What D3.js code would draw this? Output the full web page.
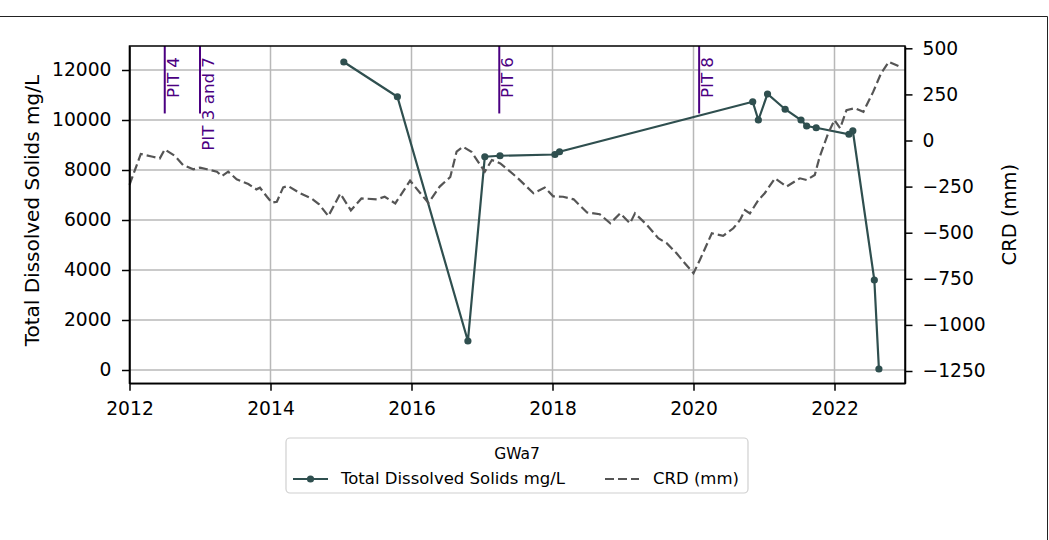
<html lang="en">
<head>
<meta charset="utf-8">
<script src="https://cdn.jsdelivr.net/npm/d3@7"></script>
<style type="text/css">
  body { margin: 0; background: #fff; }
  text { font-family: "DejaVu Sans", sans-serif; }
  .grid line { stroke: #b8b8b8; stroke-width: 1.5; }
  .axis path, .axis line { stroke: #000; stroke-width: 1.5; }
  .axis text { font-size: 18.7px; fill: #000; }
</style>
</head>
<body>
<div id="chart"></div>
<script type="text/javascript">

// Total Dissolved Solids samples (decimal year, mg/L)
var tdsYears = [2015.04, 2015.80, 2016.80, 2017.04, 2017.255, 2018.035, 2018.10, 2020.84, 2020.92, 2021.05,
                2021.30, 2021.525, 2021.605, 2021.74, 2022.205, 2022.26, 2022.565, 2022.63];
var tdsValues = [12320, 10930, 1160, 8530, 8570, 8620, 8730, 10730, 10000, 11040,
                 10430, 10000, 9760, 9690, 9430, 9570, 3600, 40];

// CRD (mm), roughly monthly
var crdYears = [2012.0, 2012.16, 2012.33, 2012.43, 2012.50, 2012.645, 2012.76, 2012.905, 2013.0, 2013.10,
                2013.24, 2013.31, 2013.40, 2013.52, 2013.685, 2013.80, 2013.85, 2013.95, 2014.02, 2014.09,
                2014.18, 2014.25, 2014.42, 2014.58, 2014.69, 2014.82, 2014.99, 2015.14, 2015.29, 2015.51,
                2015.62, 2015.77, 2015.98, 2016.12, 2016.24, 2016.40, 2016.55, 2016.64, 2016.73, 2016.85,
                2017.04, 2017.14, 2017.26, 2017.49, 2017.73, 2017.89, 2018.01, 2018.15, 2018.30, 2018.49,
                2018.67, 2018.82, 2018.96, 2019.10, 2019.17, 2019.34, 2019.50, 2019.62, 2019.76, 2019.88,
                2020.0, 2020.09, 2020.26, 2020.42, 2020.565, 2020.66, 2020.73, 2020.80, 2020.92, 2021.01,
                2021.155, 2021.32, 2021.51, 2021.605, 2021.72, 2021.79, 2021.91, 2022.0, 2022.08, 2022.17,
                2022.29, 2022.41, 2022.55, 2022.66, 2022.77, 2022.93];
var crdValues = [-241, -73, -88, -97, -48, -84, -133, -156, -147, -156,
                 -169, -193, -169, -210, -236, -265, -256, -305, -337, -332,
                 -254, -247, -286, -314, -346, -410, -288, -379, -314, -319,
                 -305, -341, -218, -283, -339, -250, -198, -60, -34, -61,
                 -169, -106, -124, -198, -286, -255, -303, -305, -319, -390,
                 -400, -449, -395, -449, -395, -458, -530, -557, -612, -667,
                 -720, -648, -503, -517, -476, -431, -377, -395, -323, -286,
                 -205, -250, -205, -214, -187, -88, 39, 111, 66, 165,
                 175, 156, 265, 364, 427, 400];

// mine pit start dates
var pitYears = [2012.50, 2013.0, 2017.245, 2020.08];
var pitLabels = ["PIT 4", "PIT 3 and 7", "PIT 6", "PIT 8"];

var xTicks = [2012, 2014, 2016, 2018, 2020, 2022];
var leftTicks = [0, 2000, 4000, 6000, 8000, 10000, 12000];
var rightTicks = [-1250, -1000, -750, -500, -250, 0, 250, 500];

var width = 1049, height = 540;
var plot = {left: 129.5, top: 46, right: 905, bottom: 383.3};

var svg = d3.select("#chart").append("svg")
    .attr("width", width)
    .attr("height", height);

svg.append("rect").attr("width", width).attr("height", height).attr("fill", "#fff");

// figure frame (only top and right visible)
svg.append("path")
    .attr("d", "M0,16.5H1047.5V540")
    .attr("fill", "none")
    .attr("stroke", "#222")
    .attr("stroke-width", 1);

var x = d3.scaleLinear().domain([2012, 2023]).range([plot.left, plot.right]);
var yL = d3.scaleLinear().domain([-532, 12960]).range([plot.bottom, plot.top]);
var yR = d3.scaleLinear().domain([-1316.7, 512.5]).range([plot.bottom, plot.top]);

// grid
var grid = svg.append("g").attr("class", "grid");
grid.selectAll(".gx").data(xTicks).enter().append("line")
    .attr("x1", d => x(d)).attr("x2", d => x(d))
    .attr("y1", plot.top).attr("y2", plot.bottom);
grid.selectAll(".gy").data(leftTicks).enter().append("line")
    .attr("x1", plot.left).attr("x2", plot.right)
    .attr("y1", d => yL(d)).attr("y2", d => yL(d));

// TDS line + markers
var tds = tdsYears.map((d, i) => ({x: d, y: tdsValues[i]}));
svg.append("path")
    .datum(tds)
    .attr("fill", "none")
    .attr("stroke", "#2f4f4f")
    .attr("stroke-width", 2.2)
    .attr("d", d3.line().x(d => x(d.x)).y(d => yL(d.y)));
svg.selectAll(".dot").data(tds).enter().append("circle")
    .attr("cx", d => x(d.x)).attr("cy", d => yL(d.y))
    .attr("r", 3.6)
    .attr("fill", "#2f4f4f");

// pit lines
var pits = svg.append("g");
pitYears.forEach(function(p, i) {
  pits.append("line")
      .attr("x1", x(p)).attr("x2", x(p))
      .attr("y1", plot.top).attr("y2", plot.top + 0.2 * (plot.bottom - plot.top))
      .attr("stroke", "#4b0082")
      .attr("stroke-width", 2);
  pits.append("text")
      .attr("transform", "translate(" + (x(p) + 14) + ",57) rotate(-90)")
      .attr("text-anchor", "end")
      .style("font-size", "16.7px")
      .style("fill", "#4b0082")
      .text(pitLabels[i]);
});

// CRD dashed line (twin axis)
var crd = crdYears.map((d, i) => ({x: d, y: crdValues[i]}));
svg.append("path")
    .datum(crd)
    .attr("fill", "none")
    .attr("stroke", "#555")
    .attr("stroke-width", 2.2)
    .attr("stroke-dasharray", "9,4")
    .attr("d", d3.line().x(d => x(d.x)).y(d => yR(d.y)));

// axes
svg.append("g").attr("class", "axis")
    .attr("transform", "translate(0," + plot.bottom + ")")
    .call(d3.axisBottom(x).tickValues(xTicks).tickFormat(d3.format("d")).tickSize(7.5).tickPadding(11).tickSizeOuter(0));
svg.append("g").attr("class", "axis")
    .attr("transform", "translate(" + plot.left + ",0)")
    .call(d3.axisLeft(yL).tickValues(leftTicks).tickFormat(d3.format("d")).tickSize(7.5).tickPadding(10.5).tickSizeOuter(0));
svg.append("g").attr("class", "axis")
    .attr("transform", "translate(" + plot.right + ",0)")
    .call(d3.axisRight(yR).tickValues(rightTicks).tickFormat(d3.format("d")).tickSize(7.5).tickPadding(10).tickSizeOuter(0));

// box
svg.append("rect")
    .attr("x", plot.left).attr("y", plot.top)
    .attr("width", plot.right - plot.left).attr("height", plot.bottom - plot.top)
    .attr("fill", "none").attr("stroke", "#000").attr("stroke-width", 1.5);

// axis labels
var midY = (plot.top + plot.bottom) / 2;
svg.append("text")
    .attr("transform", "translate(39," + (midY - 4) + ") rotate(-90)")
    .attr("text-anchor", "middle")
    .style("font-size", "20px")
    .text("Total Dissolved Solids mg/L");
svg.append("text")
    .attr("transform", "translate(1016," + midY + ") rotate(-90)")
    .attr("text-anchor", "middle")
    .style("font-size", "19.5px")
    .text("CRD (mm)");

// legend
var lg = svg.append("g");
lg.append("rect")
    .attr("x", 286).attr("y", 438).attr("width", 462).attr("height", 55)
    .attr("rx", 4)
    .attr("fill", "#fff").attr("stroke", "#d0d0d0").attr("stroke-width", 1.2);
lg.append("text")
    .attr("x", 517).attr("y", 459.3)
    .attr("text-anchor", "middle")
    .style("font-size", "15.5px")
    .text("GWa7");
lg.append("line").attr("x1", 293).attr("x2", 328).attr("y1", 479).attr("y2", 479)
    .attr("stroke", "#2f4f4f").attr("stroke-width", 2.2);
lg.append("circle").attr("cx", 310.5).attr("cy", 479).attr("r", 3.6).attr("fill", "#2f4f4f");
lg.append("text").attr("x", 341).attr("y", 484.3).style("font-size", "16.5px")
    .text("Total Dissolved Solids mg/L");
lg.append("line").attr("x1", 605).attr("x2", 639).attr("y1", 479).attr("y2", 479)
    .attr("stroke", "#555").attr("stroke-width", 2.2).attr("stroke-dasharray", "9,4");
lg.append("text").attr("x", 653).attr("y", 484.3).style("font-size", "16.5px")
    .text("CRD (mm)");

</script>
</body>
</html>
